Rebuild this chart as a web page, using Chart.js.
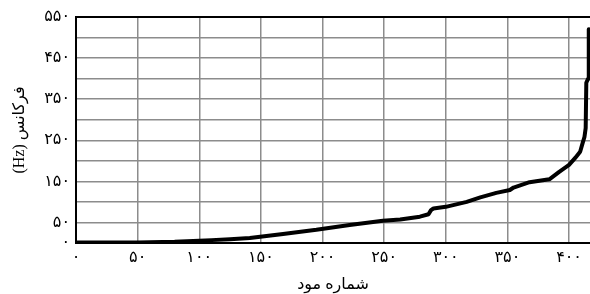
<!DOCTYPE html>
<html>
<head>
<meta charset="utf-8">
<script src="https://cdn.jsdelivr.net/npm/chart.js@4/dist/chart.umd.min.js"></script>
<style>
    html, body { margin: 0; padding: 0; background: #fff; }
    #wrap { width: 590px; height: 294px; }
</style>
</head>
<body>
<div id="wrap"><canvas id="modeChart" dir="rtl"></canvas></div>
<script>
// Mode numbers and their frequencies (Hz)
const modeNumbers = [1, 20, 50, 80, 95, 110, 125, 141, 168, 195, 222, 249, 263, 279, 286, 288, 290, 300, 317, 328, 341, 352, 355, 368, 384, 392, 400, 405, 409, 411, 412.5, 413.5, 414, 415.5, 416];
const frequencies = [1, 1, 1.5, 3, 5, 7, 9, 12, 22, 32, 44, 54, 57, 64, 70, 80, 84, 88, 100, 111, 122, 129, 135, 148, 155, 173, 190, 207, 222, 243, 258, 280, 390, 400, 520];

const xTickValues = [0, 50, 100, 150, 200, 250, 300, 350, 400];
const yTickValues = [0, 50, 150, 250, 350, 450, 550];

const xTitle = 'شماره مود';
const yTitle = 'فرکانس (Hz)';

const faDigits = '۰۱۲۳۴۵۶۷۸۹';
const toFa = n => String(n).replace(/\d/g, d => faDigits[d]);

const fontFamily = '"Liberation Serif", "DejaVu Sans", serif';

document.addEventListener('DOMContentLoaded', () => {
    const ctx = document.getElementById('modeChart');
    new Chart(ctx, {
        type: 'line',
        data: {
            datasets: [{
                data: modeNumbers.map((m, i) => ({ x: m, y: frequencies[i] })),
                borderColor: '#000',
                borderWidth: 4,
                borderJoinStyle: 'round',
                borderCapStyle: 'round',
                pointRadius: 0,
                tension: 0,
                fill: false
            }]
        },
        options: {
            responsive: true,
            maintainAspectRatio: false,
            animation: false,
            layout: { padding: { top: 17, right: 0, left: 0, bottom: 0 } },
            plugins: {
                legend: { display: false },
                tooltip: { enabled: false }
            },
            scales: {
                x: {
                    type: 'linear',
                    min: 0,
                    max: 417,
                    border: { color: '#000', width: 2 },
                    grid: { color: '#8c8c8c', lineWidth: 1.5, drawTicks: false },
                    ticks: {
                        stepSize: 50,
                        includeBounds: false,
                        padding: 5,
                        color: '#000',
                        font: { family: fontFamily, size: 16 },
                        callback: v => xTickValues.includes(v) ? toFa(v) : ''
                    },
                    title: {
                        display: true,
                        text: xTitle,
                        color: '#000',
                        font: { family: fontFamily, size: 16 },
                        padding: { top: 0, bottom: 0 }
                    },
                    afterFit: scale => { scale.height = 51; }
                },
                y: {
                    min: 0,
                    max: 550,
                    border: { color: '#000', width: 2 },
                    grid: {
                        color: c => c.tick && c.tick.value === 550 ? '#000' : '#8c8c8c',
                        lineWidth: c => c.tick && c.tick.value === 550 ? 2 : 1.5,
                        drawTicks: false
                    },
                    ticks: {
                        stepSize: 50,
                        autoSkip: false,
                        padding: 6,
                        color: '#000',
                        font: { family: fontFamily, size: 16 },
                        callback: v => yTickValues.includes(v) ? toFa(v) : ''
                    },
                    title: {
                        display: true,
                        text: yTitle,
                        color: '#000',
                        font: { family: fontFamily, size: 16 },
                        padding: { top: 10, bottom: 0 }
                    },
                    afterFit: scale => { scale.width = 76; }
                }
            }
        }
    });
});
</script>
</body>
</html>
